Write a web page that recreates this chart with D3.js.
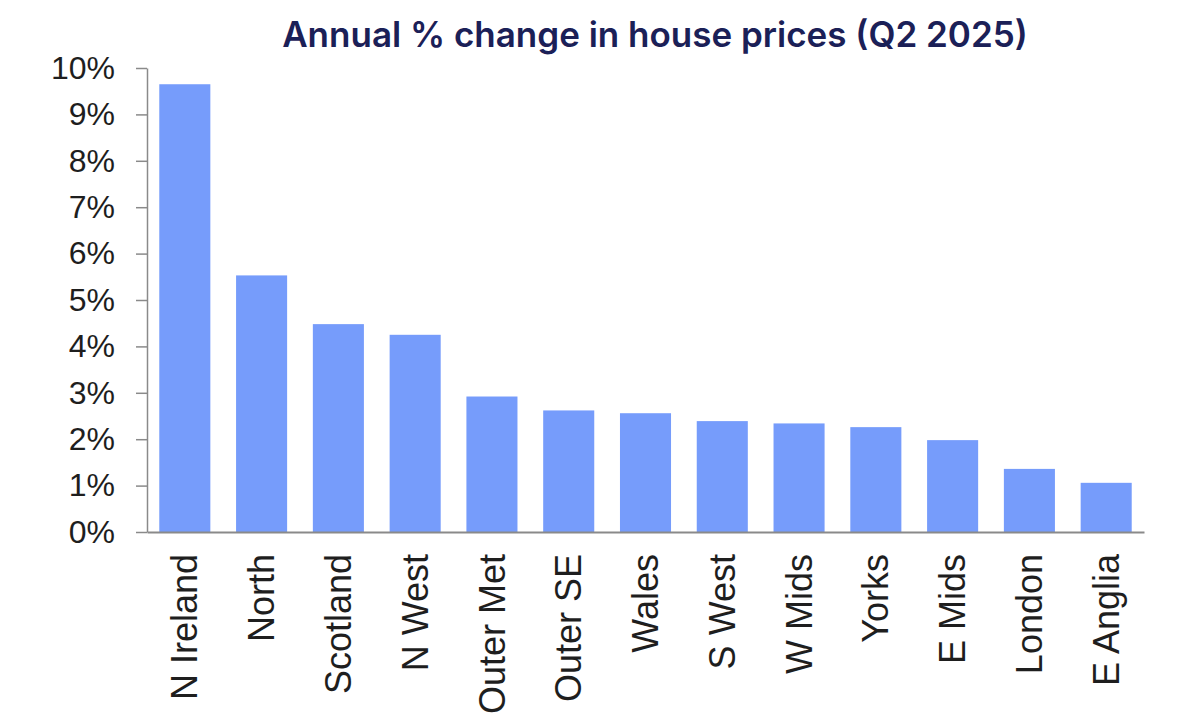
<!DOCTYPE html>
<html>
<head>
<meta charset="utf-8">
<script src="https://cdn.jsdelivr.net/npm/d3@7"></script>
<style>
  body { margin: 0; background: #fff; }
  svg { display: block; }
</style>
</head>
<body>
<div id="chart"></div>
<script>
// Annual % change in house prices, UK regions, Q2 2025
var regions = ["N Ireland", "North", "Scotland", "N West", "Outer Met", "Outer SE",
               "Wales", "S West", "W Mids", "Yorks", "E Mids", "London", "E Anglia"];
var change = [9.65, 5.53, 4.48, 4.25, 2.92, 2.62, 2.56, 2.39, 2.34, 2.26, 1.98, 1.36, 1.06];
var yTicks = [0, 1, 2, 3, 4, 5, 6, 7, 8, 9, 10];

var width = 1200, height = 727;
var margin = {top: 68, right: 56, bottom: 195, left: 147};

var svg = d3.select("#chart").append("svg")
    .attr("width", width)
    .attr("height", height);

var x = d3.scaleBand()
    .domain(regions)
    .range([margin.left, width - margin.right])
    .paddingInner(0.335)
    .paddingOuter(0.16);

var y = d3.scaleLinear()
    .domain([0, 10])
    .range([height - margin.bottom, margin.top]);

// title
svg.append("text")
    .attr("x", 655)
    .attr("y", 47)
    .attr("text-anchor", "middle")
    .style("font-family", "Inter, 'Noto Sans', sans-serif")
    .style("font-weight", 600)
    .style("font-size", "35px")
    .style("fill", "#1b2057")
    .text("Annual % change in house prices (Q2 2025)");

// bars
svg.append("g").selectAll("rect")
    .data(change)
    .join("rect")
    .attr("x", function(d, i) { return x(regions[i]); })
    .attr("y", function(d) { return y(d); })
    .attr("width", x.bandwidth())
    .attr("height", function(d) { return y(0) - y(d); })
    .attr("fill", "#769cfb");

// y axis
var yAxis = svg.append("g")
    .attr("transform", "translate(" + margin.left + ",0)")
    .call(d3.axisLeft(y)
        .tickValues(yTicks)
        .tickFormat(function(d) { return d + "%"; })
        .tickSize(11)
        .tickPadding(21)
        .tickSizeOuter(0));

yAxis.select(".domain").attr("stroke", "#8a8a8a").attr("stroke-width", 1.5);
yAxis.selectAll(".tick line").attr("stroke", "#8a8a8a").attr("stroke-width", 1.5);
yAxis.selectAll(".tick text")
    .style("font-family", "'Liberation Sans', Arial, sans-serif")
    .style("font-size", "32px")
    .style("fill", "#1e1e1e");

// x axis
var xAxis = svg.append("g")
    .attr("transform", "translate(0," + y(0) + ")")
    .call(d3.axisBottom(x).tickSize(0).tickSizeOuter(0));

xAxis.select(".domain").attr("stroke", "#8a8a8a").attr("stroke-width", 2);
xAxis.selectAll(".tick text")
    .attr("transform", "rotate(-90)")
    .attr("text-anchor", "end")
    .attr("x", -22)
    .attr("y", 0)
    .attr("dy", "0.35em")
    .style("font-family", "'Liberation Sans', Arial, sans-serif")
    .style("font-size", "36px")
    .style("fill", "#1e1e1e");
</script>
</body>
</html>
